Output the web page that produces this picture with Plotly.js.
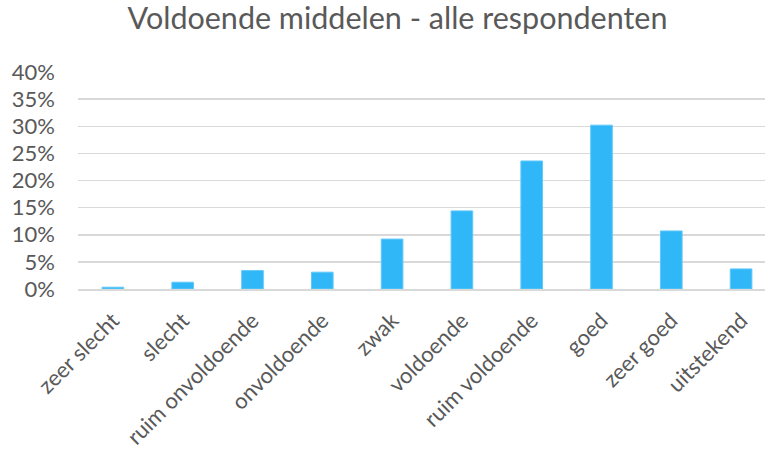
<!DOCTYPE html>
<html>
<head>
<meta charset="utf-8">
<script src="https://cdn.plot.ly/plotly-3.0.1.min.js"></script>
<style>
html,body{margin:0;padding:0;overflow:hidden;background:#fff;width:765px;height:453px;}
#chart{width:790px;height:453px;}
</style>
</head>
<body>
<div id="chart"></div>
<script>
var categories = ["zeer slecht","slecht","ruim onvoldoende","onvoldoende","zwak","voldoende","ruim voldoende","goed","zeer goed","uitstekend"];
var values = [0.0033,0.0125,0.034,0.031,0.092,0.144,0.236,0.302,0.107,0.037];
var yTickVals = [0,0.05,0.10,0.15,0.20,0.25,0.30,0.35,0.40];

var trace = {
  type: 'bar',
  x: categories,
  y: values,
  marker: {color: '#30b7f8', line: {color: '#62c8f8', width: 1}},
  hoverinfo: 'none'
};

var layout = {
  width: 790,
  height: 453,
  margin: {l: 78, r: 14, t: 72, b: 164},
  paper_bgcolor: '#ffffff',
  plot_bgcolor: '#ffffff',
  bargap: 0.69,
  showlegend: false,
  font: {family: 'Lato, "Open Sans", sans-serif', color: '#595959'},
  title: {
    text: 'Voldoende middelen - alle respondenten',
    font: {family: 'Lato, "Open Sans", sans-serif', size: 30.5, color: '#595959'},
    x: 397.5/790, xanchor: 'center', xref: 'container',
    y: 1 - 18/453, yanchor: 'middle', yref: 'container'
  },
  xaxis: {
    type: 'category',
    tickangle: -45,
    tickfont: {size: 22, color: '#595959'},
    showgrid: false,
    showline: true,
    linecolor: '#d9d9d9',
    linewidth: 2,
    ticks: '',
    zeroline: false,
    ticklabelstandoff: 8
  },
  yaxis: {
    range: [0, 0.40],
    tickvals: yTickVals,
    tickformat: '.0%',
    tickfont: {size: 22, color: '#595959'},
    showgrid: true,
    gridcolor: '#d9d9d9',
    gridwidth: 1.5,
    zeroline: false,
    showline: false,
    ticks: '',
    ticklabelstandoff: 22
  }
};

Plotly.newPlot('chart', [trace], layout, {displayModeBar: false, staticPlot: true});
</script>
</body>
</html>
